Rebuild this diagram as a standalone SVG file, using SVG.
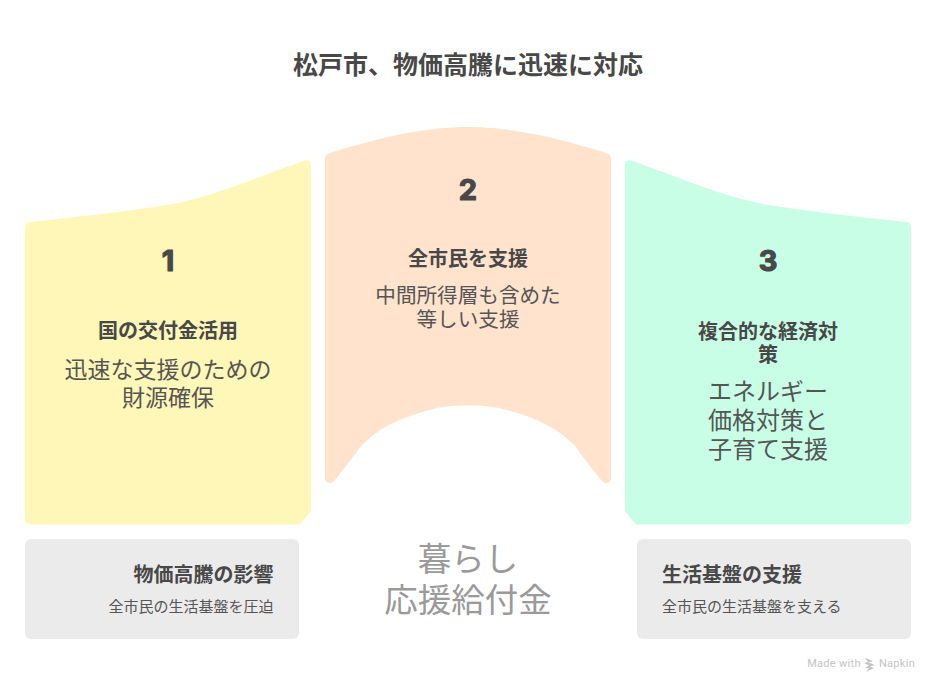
<svg xmlns="http://www.w3.org/2000/svg" width="936" height="688" viewBox="0 0 936 688">
<style>
text{font-family:"Noto Sans CJK JP","Noto Sans",sans-serif;text-anchor:middle;fill:#484848}
.h{font-weight:700;font-size:20px}
.b{font-size:23px;font-weight:400;fill:#555}
.n{font-family:"Inter","Noto Sans",sans-serif;font-weight:700;font-size:29px;stroke:#484848;stroke-width:1.200;stroke-linejoin:round}
.s{font-size:15px;font-weight:400;fill:#555}
.c{font-size:33.500px;fill:#9a9a9a}
.w{font-size:11px;fill:#c4c4c4;font-family:"Roboto",sans-serif;letter-spacing:.3px}
</style>
<rect width="936" height="688" fill="#fff"/>
<text x="468" y="74" style="font-weight:700;font-size:25px">松戸市、物価高騰に迅速に対応</text>
<g id="node-1">
<path fill="#fff7b8" d="M30 222C80 216.500 125 212 167 205C210 198 255 178 305 160.500Q311 159 311 165V511L300 524.500H31Q25 524.500 25 518V228Q25 222.500 30 222Z"/>
<text class="n" x="168" y="271">1</text>
<text class="h" x="168" y="338">国の交付金活用</text>
<text class="b" x="168" y="378">迅速な支援のための</text>
<text class="b" x="168" y="406">財源確保</text>
</g>
<g id="node-2">
<path fill="#ffe3cd" d="M330 153C400 131 440 127 468 127C496 127 536 131 606 153Q611 154.500 611 159V478Q611 483 605.500 483Q603 483 601 480C590 466 582 456 576 447C555 425 530 416 499.300 408C485 404.500 450 404.500 436.700 408C406 416 381 425 360 447C354 456 346 466 335 480Q333 483 330.500 483Q325 483 325 478V159Q325 154.500 330 153Z"/>
<text class="n" x="468" y="200">2</text>
<text class="h" x="468" y="266">全市民を支援</text>
<text class="b" x="468" y="303" style="font-size:20.600px">中間所得層も含めた</text>
<text class="b" x="468" y="327" style="font-size:20.600px">等しい支援</text>
</g>
<g id="node-3">
<path fill="#c8fee5" d="M631 160.500C681 178 726 198 769 205C811 212 856 216.500 906 222Q911 222.500 911 228V518Q911 524.500 905 524.500H636L625 511V165Q625 159 631 160.500Z"/>
<text class="n" x="768" y="271">3</text>
<text class="h" x="768" y="339">複合的な経済対</text>
<text class="h" x="768" y="362">策</text>
<text class="b" x="768" y="400" style="font-size:24px">エネルギー</text>
<text class="b" x="768" y="429" style="font-size:24px">価格対策と</text>
<text class="b" x="768" y="458" style="font-size:24px">子育て支援</text>
</g>
<g id="node-left">
<rect x="25" y="539" width="274" height="100" rx="6" fill="#ebebeb"/>
<text class="h" x="273.500" y="582" style="text-anchor:end">物価高騰の影響</text>
<text class="s" x="273.500" y="612" style="text-anchor:end">全市民の生活基盤を圧迫</text>
</g>
<g id="node-center">
<text class="c" x="468" y="571">暮らし</text>
<text class="c" x="468" y="612">応援給付金</text>
</g>
<g id="node-right">
<rect x="637" y="539" width="274" height="100" rx="6" fill="#ebebeb"/>
<text class="h" x="662" y="582" style="text-anchor:start">生活基盤の支援</text>
<text class="s" x="662" y="612" style="text-anchor:start">全市民の生活基盤を支える</text>
</g>
<g id="connectors"/>
<g id="watermark">
<text class="w" x="834" y="667">Made with</text>
<path d="M865 658l8 3-5 1.500 7 2.500-5 1.500 4 1.500-8 4 3-3.500-4-1 4-2-5-2.500 4-1z" fill="#c4c4c4"/>
<text class="w" x="897" y="667">Napkin</text>
</g>
</svg>
